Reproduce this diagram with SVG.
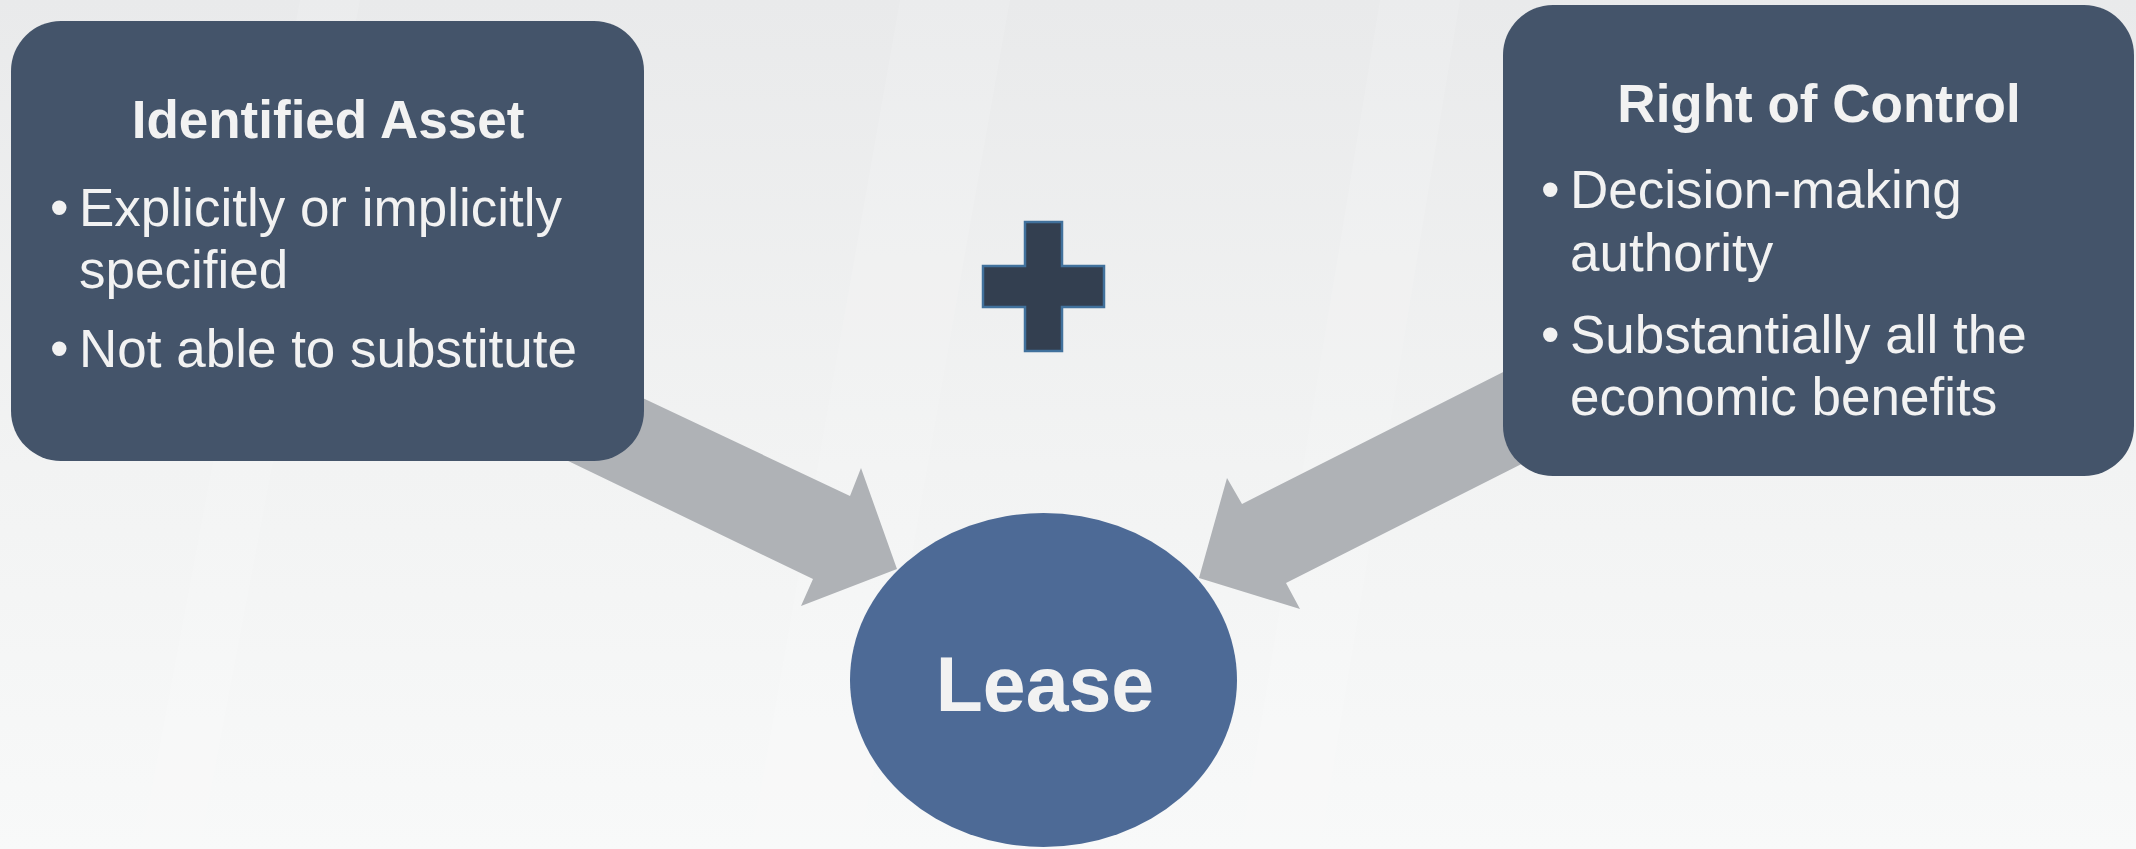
<svg xmlns="http://www.w3.org/2000/svg" width="2136" height="849" viewBox="0 0 2136 849">
  <defs>
    <linearGradient id="bg" x1="0" y1="0" x2="0" y2="1">
      <stop offset="0" stop-color="#e9eaeb"/>
      <stop offset="0.55" stop-color="#f2f3f3"/>
      <stop offset="1" stop-color="#f8f9f9"/>
    </linearGradient>
    <style>
      .box { fill: #44546a; }
      .arrow { fill: #afb2b6; }
      .title { font-family: "Liberation Sans", Arial, sans-serif; font-weight: bold; font-size: 53px; fill: #f2f2f2; text-anchor: middle; }
      .item { font-family: "Liberation Sans", Arial, sans-serif; font-size: 53px; fill: #f2f2f2; }
      .lease { font-family: "Liberation Sans", Arial, sans-serif; font-weight: bold; font-size: 77px; fill: #f2f2f2; text-anchor: middle; }
      .streak { fill: #ffffff; opacity: 0.12; }
    </style>
  </defs>

  <rect x="0" y="0" width="2136" height="849" fill="url(#bg)"/>
  <g id="background-streaks">
    <polygon class="streak" points="900,0 1010,0 860,849 750,849"/>
    <polygon class="streak" points="1380,0 1460,0 1320,849 1240,849"/>
    <polygon class="streak" points="300,0 360,0 200,849 140,849"/>
  </g>

  <g id="connectors">
    <polygon class="arrow" points="450,307 850,496 861,468 897,569 801,606 813,579 450,404"/>
    <polygon class="arrow" points="1650,298 1242,504 1227,478 1199,578 1300,609 1286,583 1650,399"/>
  </g>

  <g id="identified-asset">
    <rect class="box" x="11" y="21" width="633" height="440" rx="50" ry="50"/>
    <text class="title" x="328" y="138">Identified Asset</text>
    <text class="item" x="50" y="226">•</text>
    <text class="item" x="79" y="226">Explicitly or implicitly</text>
    <text class="item" x="79" y="288">specified</text>
    <text class="item" x="50" y="367">•</text>
    <text class="item" x="79" y="367">Not able to substitute</text>
  </g>

  <g id="right-of-control">
    <rect class="box" x="1503" y="5" width="631" height="471" rx="50" ry="50"/>
    <text class="title" x="1819" y="122">Right of Control</text>
    <text class="item" x="1541" y="208">•</text>
    <text class="item" x="1570" y="208">Decision-making</text>
    <text class="item" x="1570" y="271">authority</text>
    <text class="item" x="1541" y="353">•</text>
    <text class="item" x="1570" y="353">Substantially all the</text>
    <text class="item" x="1570" y="415">economic benefits</text>
  </g>

  <g id="plus">
    <polygon points="1025,222 1062,222 1062,266 1104,266 1104,307 1062,307 1062,351 1025,351 1025,307 983,307 983,266 1025,266" fill="#333f50" stroke="#41719c" stroke-width="2.5"/>
  </g>

  <g id="lease">
    <ellipse cx="1043.5" cy="680" rx="193.5" ry="167" fill="#4d6a96"/>
    <text class="lease" x="1045" y="711">Lease</text>
  </g>
</svg>
